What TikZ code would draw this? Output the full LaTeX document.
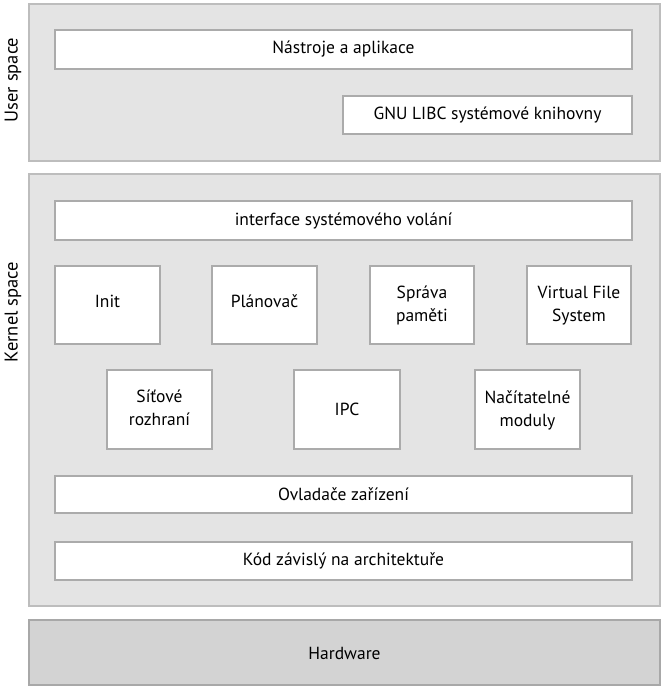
\documentclass[tikz,border=0pt]{standalone}
\usepackage{fontspec}
\setmainfont{PT Sans}
\definecolor{outerfill}{HTML}{E4E4E4}
\definecolor{outerline}{HTML}{BDBDBD}
\definecolor{hwfill}{HTML}{D3D3D3}
\definecolor{hwline}{HTML}{A8A8A8}
\definecolor{innerline}{HTML}{ABABAB}
\begin{document}
\begin{tikzpicture}[x=1pt,y=-1pt,
  outerbox/.style={draw=outerline,fill=outerfill,line width=1.6pt},
  hwbox/.style={draw=hwline,fill=hwfill,line width=1.6pt},
  innerbox/.style={draw=innerline,fill=white,line width=1.3pt},
  lbl/.style={font=\fontsize{17.5}{23}\selectfont,align=center,text=black},
  side/.style={font=\fontsize{18.5}{22}\selectfont,rotate=90,text=black}]
\useasboundingbox (0,0) rectangle (663,689);
% outer regions
\draw[outerbox] (29,4) rectangle (660,161);
\draw[outerbox] (29,174) rectangle (660,606);
\draw[hwbox] (29,620) rectangle (660,685);
\node[lbl] (hw) at (344.5,653) {Hardware};
\node[side] (us) at (13,80) {User space};
\node[side] (ks) at (13,312) {Kernel space};
% user space
\draw[innerbox] (55,30) rectangle (632,69);
\node[lbl] (nas) at (343.5,49.5) {Nástroje a aplikace};
\draw[innerbox] (343,96) rectangle (632,134);
\node[lbl] (gnu) at (487.5,115) {GNU LIBC systémové knihovny};
% kernel space
\draw[innerbox] (55,201) rectangle (632,240);
\node[lbl] (sys) at (343.5,220.5) {interface systémového volání};
\draw[innerbox] (55,266) rectangle (160,344);
\node[lbl] (init) at (107.5,301) {Init};
\draw[innerbox] (212,266) rectangle (317,344);
\node[lbl] (plan) at (264.5,301) {Plánovač};
\draw[innerbox] (370,266) rectangle (474,344);
\node[lbl] (mem) at (422,305) {Správa\\paměti};
\draw[innerbox] (527,266) rectangle (631,344);
\node[lbl] (vfs) at (579,306) {Virtual File\\System};
\draw[innerbox] (107,370) rectangle (212,449);
\node[lbl] (net) at (159.5,408) {Síťové\\rozhraní};
\draw[innerbox] (294,370) rectangle (400,449);
\node[lbl] (ipc) at (347,409) {IPC};
\draw[innerbox] (475,370) rectangle (580,449);
\node[lbl] (mod) at (527.5,410) {Načítatelné\\moduly};
\draw[innerbox] (55,476) rectangle (632,513);
\node[lbl] (drv) at (343.5,494) {Ovladače zařízení};
\draw[innerbox] (55,542) rectangle (632,580);
\node[lbl] (arch) at (343.5,561) {Kód závislý na architektuře};
\end{tikzpicture}
\end{document}
